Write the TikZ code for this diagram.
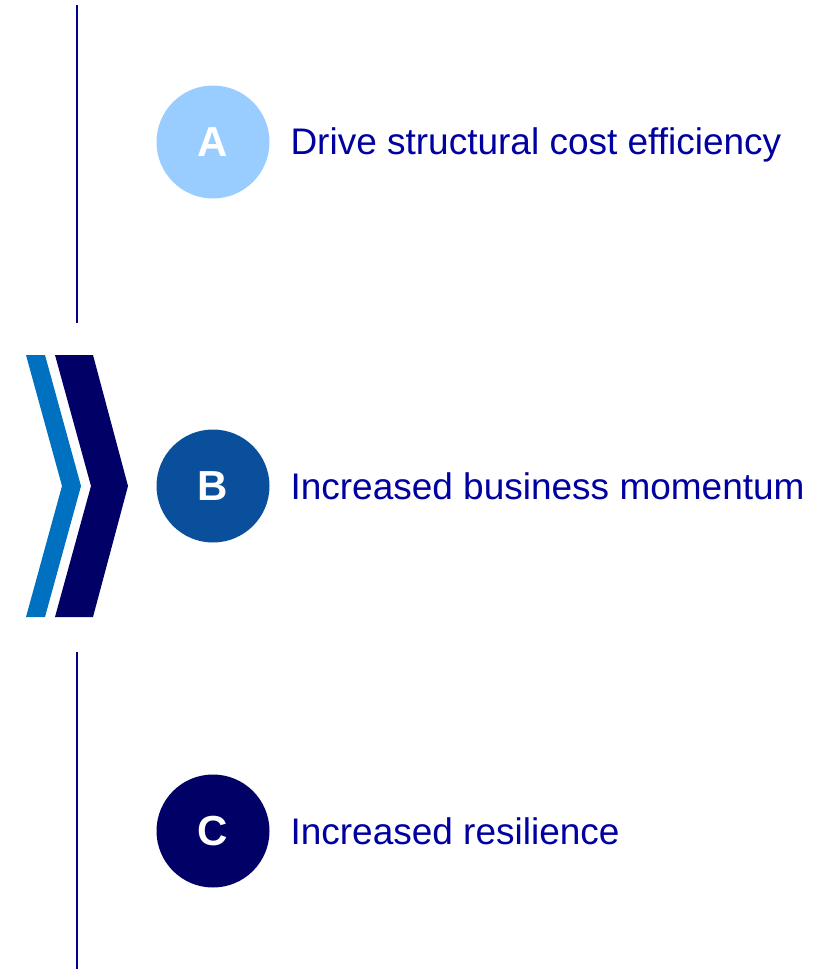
\documentclass[tikz,border=0pt]{standalone}
\usepackage{fontspec}
\setmainfont{Liberation Sans}
\definecolor{lightA}{HTML}{99CCFF}
\definecolor{midB}{HTML}{0A4F9C}
\definecolor{darkC}{HTML}{000066}
\definecolor{chevlight}{HTML}{0070C0}
\definecolor{textblue}{HTML}{0000A0}
\definecolor{rule}{HTML}{00008C}

\begin{document}
\begin{tikzpicture}[x=1pt, y=-1pt, line width = 1pt,
  letter/.style={circle, minimum size=113pt, inner sep=0pt, text=white, font=\fontsize{42}{42}\selectfont\bfseries},
  label/.style={anchor=base west, text=textblue, inner sep=0pt, font=\fontsize{37}{37}\selectfont}]

\useasboundingbox (0,0) rectangle (838,969);

% vertical rules
\draw[rule, line width=1.5pt] (77,5)--(77,323);
\draw[rule, line width=1.5pt] (77,652)--(77,969);

% chevron
\fill[chevlight] (26,355)--(45,355)--(81,486)--(45,617)--(26,617)--(62,486)--cycle;
\fill[darkC] (55,355)--(93,355)--(128,486)--(93,617)--(55,617)--(91,486)--cycle;

\node[letter, fill=lightA] (a) at (213,142) {A};
\node[label] (ta) at (290,154) {Drive structural cost efficiency};

\node[letter, fill=midB] (b) at (213,486) {B};
\node[label] (tb) at (290,499) {Increased business momentum};

\node[letter, fill=darkC] (c) at (213,831) {C};
\node[label] (tc) at (290,844) {Increased resilience};

\end{tikzpicture}
\end{document}
